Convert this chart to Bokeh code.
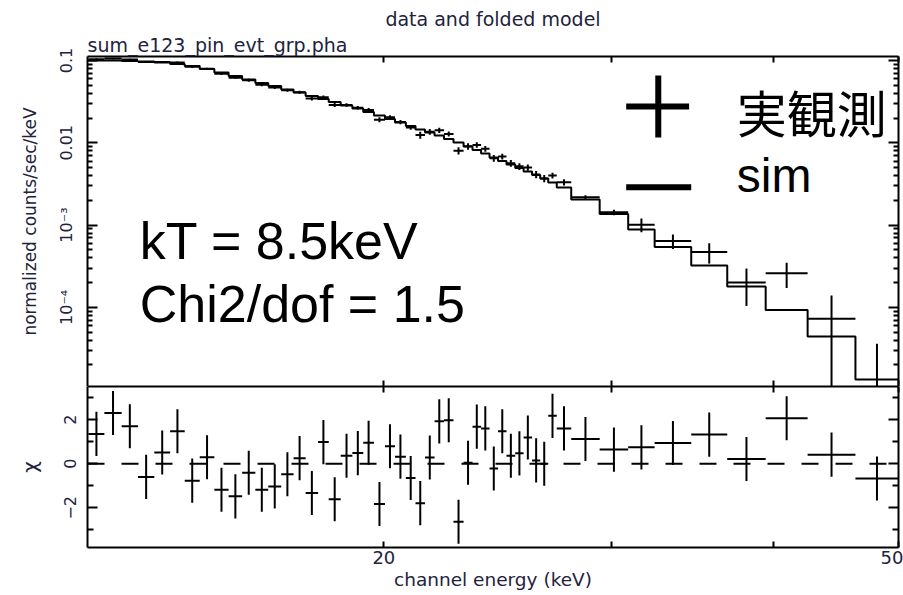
import numpy as np
from bokeh.plotting import figure
from bokeh.layouts import column
from bokeh.models import (ColumnDataSource, LogAxis, LinearAxis, FixedTicker,
                          Span, Label, Arrow, Title)
from bokeh.embed import file_html
from bokeh.resources import INLINE

# ---------------- values ----------------
bin_edges_kev = [11.82, 12.16, 12.54, 12.91, 13.29, 13.67, 14.03, 14.41, 14.79, 15.17,
                 15.54, 15.91, 16.28, 16.66, 17.03, 17.40, 17.79, 18.13, 18.52, 18.91,
                 19.28, 19.65, 20.04, 20.40, 20.80, 21.16, 21.52, 21.89, 22.26, 22.64,
                 23.05, 23.42, 23.78, 24.14, 24.51, 24.88, 25.27, 25.65, 26.04, 26.42,
                 26.80, 27.21, 27.92, 29.37, 30.90, 32.39, 34.57, 36.86, 39.47, 42.53,
                 46.31, 50.0]

model_counts = [0.1000, 0.1000, 0.0986, 0.0972, 0.0946, 0.0907, 0.0858, 0.0788, 0.0715, 0.0648,
                0.0588, 0.0533, 0.0490, 0.0444, 0.0408, 0.0370, 0.0341, 0.0313, 0.0284, 0.0261,
                0.0237, 0.0215, 0.0195, 0.0176, 0.0160, 0.0145, 0.0133, 0.0123, 0.0111, 0.0101,
                0.00902, 0.00818, 0.00741, 0.00663, 0.00601, 0.00545, 0.00494, 0.00448, 0.00406, 0.00368,
                0.00329, 0.00286, 0.00205, 0.00136, 0.000884, 0.000542, 0.000323, 0.000179, 0.0000930, 0.0000443,
                0.0000133]

data_counts = [0.1034, 0.1058, 0.1028, 0.0957, 0.0958, 0.0947, 0.0838, 0.0795, 0.0690, 0.0619,
               0.0578, 0.0508, 0.0470, 0.0435, 0.0412, 0.0345, 0.0358, 0.0288, 0.0289, 0.0267,
               0.0251, 0.0191, 0.0204, 0.0179, 0.0154, 0.0124, 0.0136, 0.0142, 0.0128, 0.0080,
               0.00905, 0.00942, 0.00848, 0.00650, 0.00681, 0.00565, 0.00517, 0.00501, 0.00412, 0.00368,
               0.00400, 0.00332, 0.00218, 0.00143, 0.00101, 0.00064, 0.00047, 0.00020, 0.00026, 0.0000727,
               -0.000034]

data_errors = [0.0025, 0.0025, 0.0025, 0.0024, 0.0024, 0.0027, 0.0026, 0.0024, 0.0021, 0.0019,
               0.0024, 0.0021, 0.0020, 0.0018, 0.0016, 0.0019, 0.0017, 0.0016, 0.0014, 0.0013,
               0.0014, 0.0013, 0.0012, 0.0011, 0.0010, 0.0012, 0.0011, 0.0010, 0.0009, 0.0008,
               0.00081, 0.00074, 0.00067, 0.00060, 0.00054, 0.00055, 0.00049, 0.00045, 0.00041, 0.00037,
               0.00033, 0.00029, 0.00012, 0.00011, 0.00019, 0.00013, 0.00013, 0.000096, 0.000088, 0.000067,
               0.00007]

delchi = [1.35, 2.30, 1.70, -0.60, 0.51, 1.47, -0.77, 0.29, -1.18, -1.48,
          -0.41, -1.18, -1.03, -0.48, 0.25, -1.33, 0.98, -1.61, 0.36, 0.48,
          0.95, -1.83, 0.79, 0.32, -0.65, -1.79, 0.28, 1.92, 1.97, -2.63,
          0.04, 1.68, 1.60, -0.22, 1.47, 0.36, 0.47, 1.19, 0.15, 0.00,
          2.17, 1.60, 1.12, 0.64, 0.74, 0.94, 1.32, 0.21, 2.06, 0.41,
          -0.67]
delchi_error = 1.0

x_major_ticks = [20, 30, 40, 50]
x_tick_labels = {20: "20", 30: "", 40: "", 50: "50"}
y_major_ticks = [1e-4, 1e-3, 1e-2, 1e-1]
y_tick_labels = {1e-4: "10\u207b\u2074", 1e-3: "10\u207b\u00b3", 1e-2: "0.01", 1e-1: "0.1"}
y_minor_ticks = [m * 10.0 ** e for e in range(-5, -1) for m in range(2, 10)]
chi_major_ticks = [-2, 0, 2]
chi_minor_ticks = [-3, -1, 1, 3]
chi_tick_labels = {-2: "\u22122", 0: "0", 2: "2"}

title_text = "data and folded model"
file_text = "sum_e123_pin_evt_grp.pha"
y_label_top = "normalized counts/sec/keV"
y_label_bottom = "\u03c7"
x_label = "channel energy (keV)"
kt_text = "kT = 8.5keV"
chi2_text = "Chi2/dof = 1.5"
legend_data_text = "\u5b9f\u89b3\u6e2c"
legend_model_text = "sim"

# ---------------- derived columns ----------------
edges = np.array(bin_edges_kev)
lo = edges[:-1]
hi = edges[1:]
cen = np.sqrt(lo * hi)
dat = np.array(data_counts)
err = np.array(data_errors)
y_lo = dat - err
y_hi = dat + err
y_lo_plot = np.where(y_lo > 0, y_lo, 1e-7)
dat_plot = np.where(dat > 0, dat, np.nan)
chi = np.array(delchi)

src = ColumnDataSource(dict(lo=lo, hi=hi, cen=cen, dat=dat_plot,
                            ylo=y_lo_plot, yhi=y_hi,
                            chi=chi, clo=chi - delchi_error, chi_hi=chi + delchi_error))
step_x = np.repeat(edges, 2)[1:-1]
step_y = np.repeat(np.array(model_counts), 2)
step_src = ColumnDataSource(dict(x=step_x, y=step_y))

FONT = "DejaVu Sans"
TXT = "#22223c"
X_RANGE = (11.8, 50.0)


def style_ticks(ax, major_in=8, minor_in=5):
    ax.major_tick_in = major_in
    ax.major_tick_out = 0
    ax.minor_tick_in = minor_in
    ax.minor_tick_out = 0
    ax.major_tick_line_width = 2
    ax.minor_tick_line_width = 2
    ax.major_tick_line_color = "black"
    ax.minor_tick_line_color = "black"
    ax.axis_line_width = 2
    ax.axis_line_color = "black"
    ax.major_label_text_font = FONT
    ax.major_label_text_color = TXT
    ax.axis_label_text_font = FONT
    ax.axis_label_text_font_style = "normal"
    ax.axis_label_text_color = TXT


def hide_labels(ax, ticks):
    ax.major_label_overrides = {t: "" for t in ticks}
    ax.major_label_text_font_size = "1px"
    ax.major_label_standoff = 0


# ---------------- top panel ----------------
p1 = figure(width=903, height=386, x_axis_type="log", y_axis_type="log",
            x_range=X_RANGE, y_range=(1.09e-5, 0.112), title=None,
            output_backend="svg", toolbar_location=None,
            min_border_left=87, min_border_right=5, min_border_top=56, min_border_bottom=0)
p1.grid.visible = False
p1.outline_line_color = None
p1.background_fill_color = "white"
p1.border_fill_color = "white"

xb = p1.xaxis[0]
xb.ticker = FixedTicker(ticks=x_major_ticks, minor_ticks=[])
style_ticks(xb, 6, 0)
hide_labels(xb, x_major_ticks)

yl = p1.yaxis[0]
yl.ticker = FixedTicker(ticks=y_major_ticks, minor_ticks=y_minor_ticks)
style_ticks(yl, 10, 5)
yl.major_label_overrides = y_tick_labels
yl.major_label_orientation = "vertical"
yl.major_label_text_font_size = "16px"
yl.major_label_standoff = 11
yl.axis_label = y_label_top
yl.axis_label_text_font_size = "17px"
yl.axis_label_standoff = 15

xa = LogAxis(ticker=FixedTicker(ticks=x_major_ticks, minor_ticks=[]))
style_ticks(xa, 6, 0)
hide_labels(xa, x_major_ticks)
p1.add_layout(xa, "above")

yr = LogAxis(ticker=FixedTicker(ticks=y_major_ticks, minor_ticks=y_minor_ticks))
style_ticks(yr, 10, 5)
hide_labels(yr, y_major_ticks)
p1.add_layout(yr, "right")

p1.add_layout(Title(text=file_text, align="left", text_font=FONT, text_font_size="19px",
                    text_font_style="normal", text_color=TXT, standoff=2, offset=0), "above")
p1.add_layout(Title(text=title_text, align="center", text_font=FONT, text_font_size="19px",
                    text_font_style="normal", text_color=TXT, standoff=2, offset=0), "above")

p1.line("x", "y", source=step_src, line_color="black", line_width=2)
p1.segment(x0="lo", y0="dat", x1="hi", y1="dat", source=src, line_color="black", line_width=2)
p1.segment(x0="cen", y0="ylo", x1="cen", y1="yhi", source=src, line_color="black", line_width=2)

p1.add_layout(Label(x=12.95, y=6.32e-4, text=kt_text, text_font="Liberation Sans",
                    text_font_size="52px", text_color="black", text_baseline="alphabetic"))
p1.add_layout(Label(x=12.95, y=1.106e-4, text=chi2_text, text_font="Liberation Sans",
                    text_font_size="52px", text_color="black", text_baseline="alphabetic"))

# legend keys and texts
p1.add_layout(Arrow(end=None, x_start=32.6, y_start=0.0116, x_end=32.6, y_end=0.0657,
                    line_width=6, line_color="black"))
p1.add_layout(Arrow(end=None, x_start=30.79, y_start=0.02761, x_end=34.44, y_end=0.02761,
                    line_width=6, line_color="black"))
p1.add_layout(Arrow(end=None, x_start=30.79, y_start=0.002887, x_end=34.57, y_end=0.002887,
                    line_width=6, line_color="black"))
p1.add_layout(Label(x=37.49, y=0.02467, text=legend_data_text, text_font="Noto Sans CJK JP",
                    text_font_size="50px", text_color="black", text_baseline="middle"))
p1.add_layout(Label(x=37.49, y=0.00395, text=legend_model_text, text_font="Liberation Sans",
                    text_font_size="48px", text_color="black", text_baseline="alphabetic"))

# ---------------- bottom panel ----------------
p2 = figure(width=903, height=209, x_axis_type="log", x_range=p1.x_range,
            y_range=(-3.8, 3.5), title=None,
            output_backend="svg", toolbar_location=None,
            min_border_left=87, min_border_right=5, min_border_top=0, min_border_bottom=48)
p2.grid.visible = False
p2.outline_line_color = None
p2.background_fill_color = "white"
p2.border_fill_color = "white"

xb2 = p2.xaxis[0]
xb2.ticker = FixedTicker(ticks=x_major_ticks, minor_ticks=[])
style_ticks(xb2, 6, 0)
xb2.major_label_overrides = x_tick_labels
xb2.major_label_text_font_size = "18px"
xb2.major_label_standoff = 3
xb2.axis_label = x_label
xb2.axis_label_text_font_size = "18.5px"
xb2.axis_label_standoff = 2

yl2 = p2.yaxis[0]
yl2.ticker = FixedTicker(ticks=chi_major_ticks, minor_ticks=chi_minor_ticks)
style_ticks(yl2, 10, 6)
yl2.major_label_overrides = chi_tick_labels
yl2.major_label_orientation = "vertical"
yl2.major_label_text_font_size = "16px"
yl2.major_label_standoff = 11
yl2.axis_label = y_label_bottom
yl2.axis_label_text_font_size = "20px"
yl2.axis_label_standoff = 20

xa2 = LogAxis(ticker=FixedTicker(ticks=x_major_ticks, minor_ticks=[]))
style_ticks(xa2, 6, 0)
hide_labels(xa2, x_major_ticks)
p2.add_layout(xa2, "above")

yr2 = LinearAxis(ticker=FixedTicker(ticks=chi_major_ticks, minor_ticks=chi_minor_ticks))
style_ticks(yr2, 10, 6)
hide_labels(yr2, chi_major_ticks)
p2.add_layout(yr2, "right")

p2.add_layout(Span(location=0, dimension="width", line_color="black", line_width=2,
                   line_dash="17 17"))
p2.segment(x0="lo", y0="chi", x1="hi", y1="chi", source=src, line_color="black", line_width=2)
p2.segment(x0="cen", y0="clo", x1="cen", y1="chi_hi", source=src, line_color="black", line_width=2)

layout = column(p1, p2, spacing=0)
open("out.html", "w").write(file_html(layout, INLINE))
